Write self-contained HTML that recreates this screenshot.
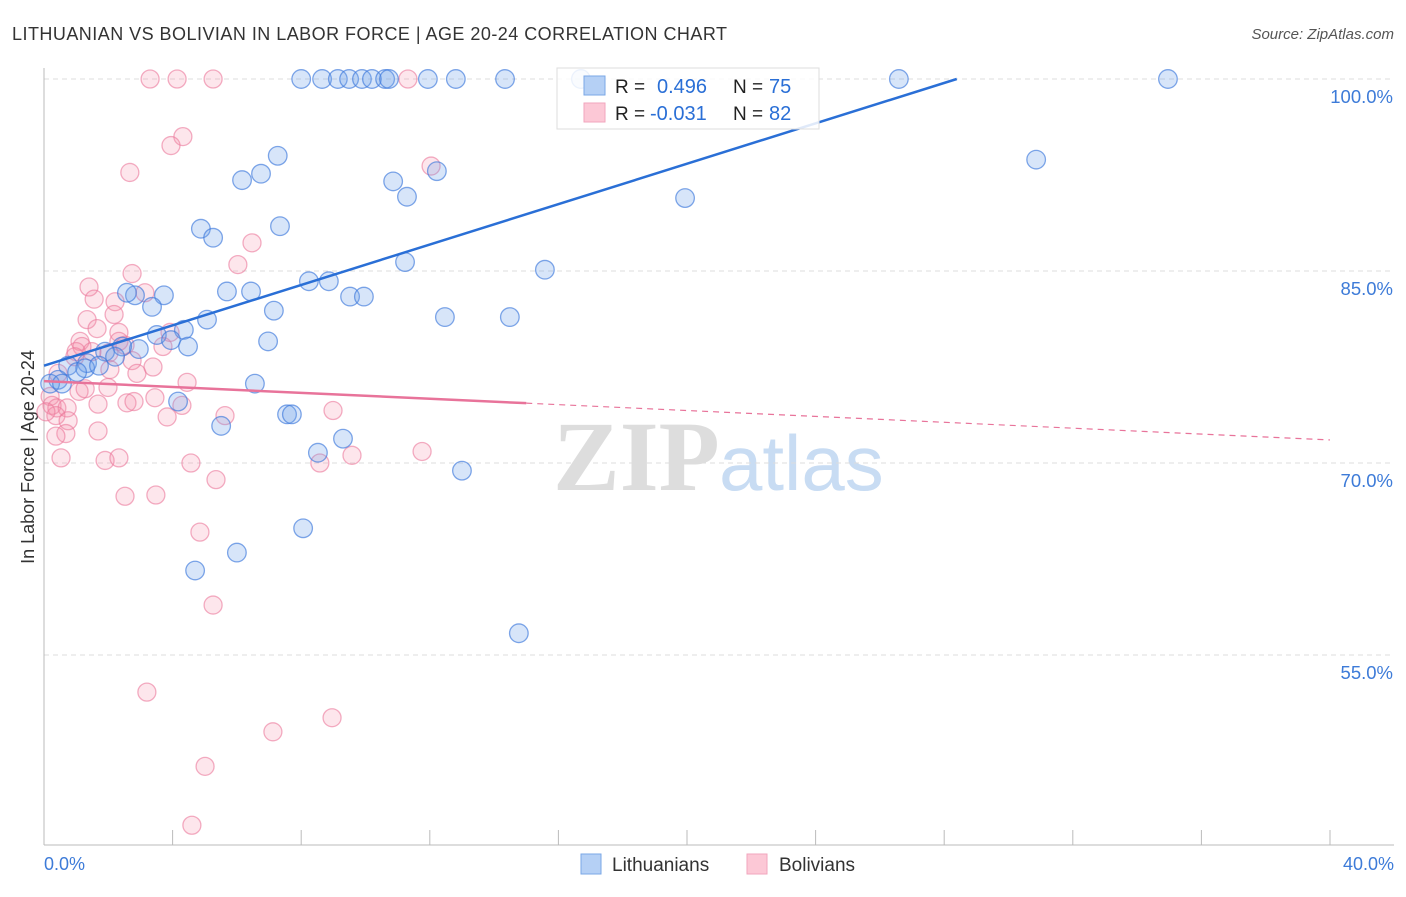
<!DOCTYPE html>
<html><head><meta charset="utf-8"><style>
body{margin:0;background:#fff;font-family:"Liberation Sans",sans-serif}
svg text{font-family:"Liberation Sans",sans-serif}
</style></head><body>
<svg id="chart" width="1406" height="892">
<text x="12" y="40" font-size="18" fill="#333" textLength="715">LITHUANIAN VS BOLIVIAN IN LABOR FORCE | AGE 20-24 CORRELATION CHART</text>
<text x="1394" y="39" font-size="15" fill="#555" font-style="italic" text-anchor="end">Source: ZipAtlas.com</text>
<text transform="translate(34,457) rotate(-90)" font-size="18" fill="#333" text-anchor="middle">In Labor Force | Age 20-24</text>
<g>
<text x="553" y="490" font-size="100" font-weight="bold" fill="#ddd" style="font-family:'Liberation Serif',serif">ZIP</text>
<text x="719" y="490" font-size="78" fill="#c8dcf3">atlas</text>
</g>
<g id="grid"></g><g id="axes"></g><g id="pts"></g><g id="lines"></g>
<g>
<rect x="557" y="68" width="262" height="61" fill="#fff" fill-opacity="0.85" stroke="#ddd"/>
<rect x="584" y="76" width="21" height="19" fill="#b5d0f5" stroke="#7aa7e6"/>
<rect x="584" y="103" width="21" height="19" fill="#fcc8d6" stroke="#f2a6bd"/>
<text x="615" y="93" font-size="19" fill="#222">R = </text><text x="657" y="93" font-size="20" fill="#2a6fd6">0.496</text>
<text x="733" y="93" font-size="19" fill="#222">N = </text><text x="769" y="93" font-size="20" fill="#2a6fd6">75</text>
<text x="615" y="120" font-size="19" fill="#222">R = </text><text x="650" y="120" font-size="20" fill="#2a6fd6">-0.031</text>
<text x="733" y="120" font-size="19" fill="#222">N = </text><text x="769" y="120" font-size="20" fill="#2a6fd6">82</text>
</g>
<g>
<rect x="581" y="854" width="20" height="20" fill="#b5d0f5" stroke="#7aa7e6"/>
<text x="612" y="871" font-size="19" fill="#333">Lithuanians</text>
<rect x="747" y="854" width="20" height="20" fill="#fcc8d6" stroke="#f2a6bd"/>
<text x="779" y="871" font-size="19" fill="#333">Bolivians</text>
</g>
</svg>
<script>
const xTicksPct=[0,4,8,12,16,20,24,28,32,36,40];
const yGridVals=[100,85,70,55];
const yTickLabels=["100.0%","85.0%","70.0%","55.0%"];
const xEndLabels=["0.0%","40.0%"];
const blueX=[8.0,8.65,9.14,9.49,9.89,10.2,10.61,10.73,11.94,12.81,14.34,16.7,26.59,34.96,7.27,6.16,6.75,10.86,11.29,12.22,19.94,30.86,4.88,5.26,7.34,11.23,15.58,8.24,8.86,5.69,6.44,3.73,2.83,2.58,3.36,9.52,9.95,7.15,5.07,12.47,14.49,4.35,3.51,3.95,4.48,6.97,2.95,2.43,1.90,1.34,0.75,1.28,1.71,2.21,1.03,0.44,0.19,0.56,6.56,4.17,7.56,7.71,5.51,8.52,9.30,13.0,8.06,6.0,4.70,14.77];
const blueY=[100,100,100,100,100,100,100,100,100,100,100,100,100,100,94.0,92.1,92.6,92.0,90.8,92.8,90.7,93.7,88.3,87.6,88.5,85.7,85.1,84.2,84.2,83.4,83.4,83.1,83.1,83.3,82.2,83.0,83.0,81.9,81.2,81.4,81.4,80.4,80.0,79.6,79.1,79.5,78.9,79.1,78.7,77.8,77.6,77.4,77.6,78.3,77.1,76.5,76.2,76.2,76.2,74.8,73.8,73.8,72.9,70.8,71.9,69.4,64.9,63.0,61.6,56.7];
const pinkX=[3.30,4.14,5.26,11.32,4.32,3.95,2.67,12.04,6.47,6.03,2.74,1.40,1.56,2.21,3.14,1.34,2.18,1.65,2.33,3.92,1.12,1.18,2.33,2.52,3.70,1.0,0.96,1.49,2.02,2.74,2.05,2.89,3.39,4.45,1.99,1.09,1.28,0.44,0.19,0.25,0.40,0.72,1.68,2.58,2.80,3.45,4.29,0.37,0.75,0.06,3.83,5.63,8.99,1.68,0.68,0.37,0.53,1.90,2.33,4.57,8.58,9.58,11.76,2.52,3.48,5.35,4.85,5.26,3.20,8.96,7.12,5.01,4.60];
const pinkY=[100,100,100,100,95.5,94.8,92.7,93.2,87.2,85.5,84.8,83.75,82.8,82.6,83.3,81.2,81.6,80.5,80.2,80.2,79.5,79.1,79.5,79.2,79.1,78.7,78.3,78.7,78.6,78.0,77.3,77.0,77.5,76.3,75.9,75.6,75.8,77.0,75.2,74.5,74.3,74.3,74.6,74.7,74.8,75.1,74.5,73.7,73.3,74.0,73.6,73.7,74.1,72.5,72.3,72.1,70.4,70.2,70.4,70.0,70.0,70.6,70.9,67.4,67.5,68.7,64.6,58.9,52.1,50.1,49.0,46.3,41.7];
const blueTrend=[77.6,0.789]; // intercept, slope
const pinkTrend=[76.4,-0.115];
const X0=44,X1=1330,PXPCT=(X1-X0)/40;
const sx=v=>X0+v*PXPCT;
const sy=v=>79+(100-v)*12.8;
const NS="http://www.w3.org/2000/svg";
function mk(tag,attrs,parent){const e=document.createElementNS(NS,tag);for(const k in attrs)e.setAttribute(k,attrs[k]);parent.appendChild(e);return e;}
const grid=document.getElementById('grid'),axes=document.getElementById('axes'),pts=document.getElementById('pts'),lines=document.getElementById('lines');
yGridVals.forEach((v,i)=>{
 const l=mk('line',{x1:44,x2:1394,y1:sy(v),y2:sy(v),stroke:'#ddd','stroke-dasharray':'5,4'},grid);
 
 
 const t=mk('text',{x:1393,y:sy(v)+24,'font-size':18.5,fill:'#3d7bd8','text-anchor':'end'},axes);
 t.textContent=yTickLabels[i];
 
 
});
const ya=mk('line',{x1:44,x2:44,y1:68,y2:845,stroke:'#bbb'},axes);


const xa=mk('line',{x1:44,x2:1394,y1:845,y2:845,stroke:'#bbb'},axes);


xTicksPct.forEach(v=>{
 const t=mk('line',{x1:sx(v),x2:sx(v),y1:830,y2:845,stroke:'#bbb'},axes);
 
 
});
[[0,'start',44],[40,'end',1394]].forEach((a,i)=>{
 const t=mk('text',{x:a[2],y:870,'font-size':18,fill:'#3d7bd8','text-anchor':a[1]},axes);
 t.textContent=xEndLabels[i];
 
 
});
pinkX.forEach((x,i)=>{
 const c=mk('circle',{cx:sx(x),cy:sy(pinkY[i]),r:9,fill:'rgba(245,140,170,0.22)',stroke:'rgba(235,120,155,0.6)','stroke-width':1.3},pts);
 
 
});
blueX.forEach((x,i)=>{
 const c=mk('circle',{cx:sx(x),cy:sy(blueY[i]),r:9.3,fill:'rgba(110,160,235,0.28)',stroke:'rgba(60,120,220,0.65)','stroke-width':1.3},pts);
 
 
});
const bxEnd=(100-blueTrend[0])/blueTrend[1];
const bl=mk('line',{x1:sx(0),y1:sy(blueTrend[0]),x2:sx(bxEnd),y2:sy(100),stroke:'#2a6fd6','stroke-width':2.5},lines);


const pl=mk('line',{x1:sx(0),y1:sy(pinkTrend[0]),x2:sx(15),y2:sy(pinkTrend[0]+pinkTrend[1]*15),stroke:'#e8739a','stroke-width':2.5},lines);


const pd=mk('line',{x1:sx(15),y1:sy(pinkTrend[0]+pinkTrend[1]*15),x2:sx(40),y2:sy(pinkTrend[0]+pinkTrend[1]*40),stroke:'#e8739a','stroke-width':1.2,'stroke-dasharray':'6,5'},lines);


</script>
</body></html>
